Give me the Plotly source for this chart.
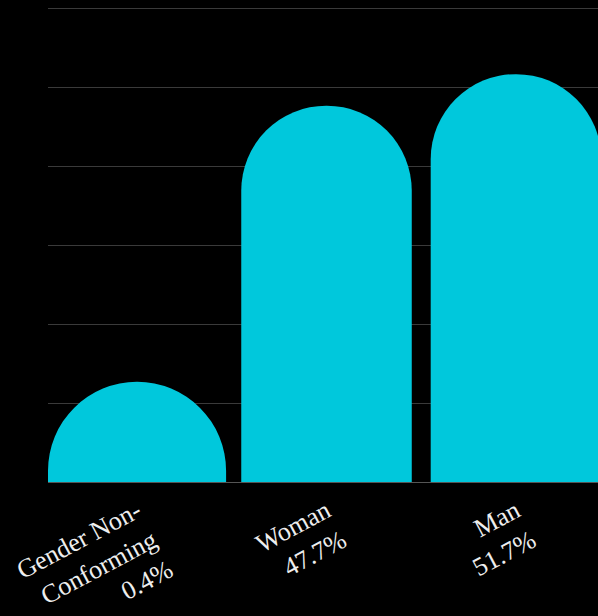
import plotly.graph_objects as go

categories = ["Gender Non-Conforming", "Woman", "Man"]
label_lines = ["Gender Non-<br>Conforming", "Woman", "Man"]
percent_values = [0.4, 47.7, 51.7]
# drawn bar heights (the original gives the tiny category a minimum visible height)
bar_heights = [12.7, 47.7, 51.7]
tick_labels = [f"{l}<br>{p}%" for l, p in zip(label_lines, percent_values)]

fig = go.Figure(
    go.Bar(
        x=categories,
        y=bar_heights,
        width=[0.94, 0.9, 0.9],
        marker=dict(color="#00C8DC", cornerradius="50%", line=dict(width=0)),
        hoverinfo="skip",
    )
)

fig.update_layout(
    width=598,
    height=616,
    paper_bgcolor="black",
    plot_bgcolor="black",
    margin=dict(l=48, r=0, t=0, b=134, autoexpand=False),
    showlegend=False,
    font=dict(family="Liberation Serif", color="#eeeeee", size=26),
)
fig.update_xaxes(
    tickmode="array",
    tickvals=categories,
    ticktext=tick_labels,
    tickangle=-28,
    range=[-0.47, 2.433],
    showgrid=False,
    showline=False,
    ticks="",
    ticklabelstandoff=8,
    automargin=False,
)
fig.update_yaxes(
    range=[0, 61.1],
    dtick=10,
    showticklabels=False,
    gridcolor="#3a3a3a",
    gridwidth=1,
    zeroline=True,
    zerolinecolor="#555555",
    zerolinewidth=1,
    automargin=False,
)

fig.write_html("out.html")
